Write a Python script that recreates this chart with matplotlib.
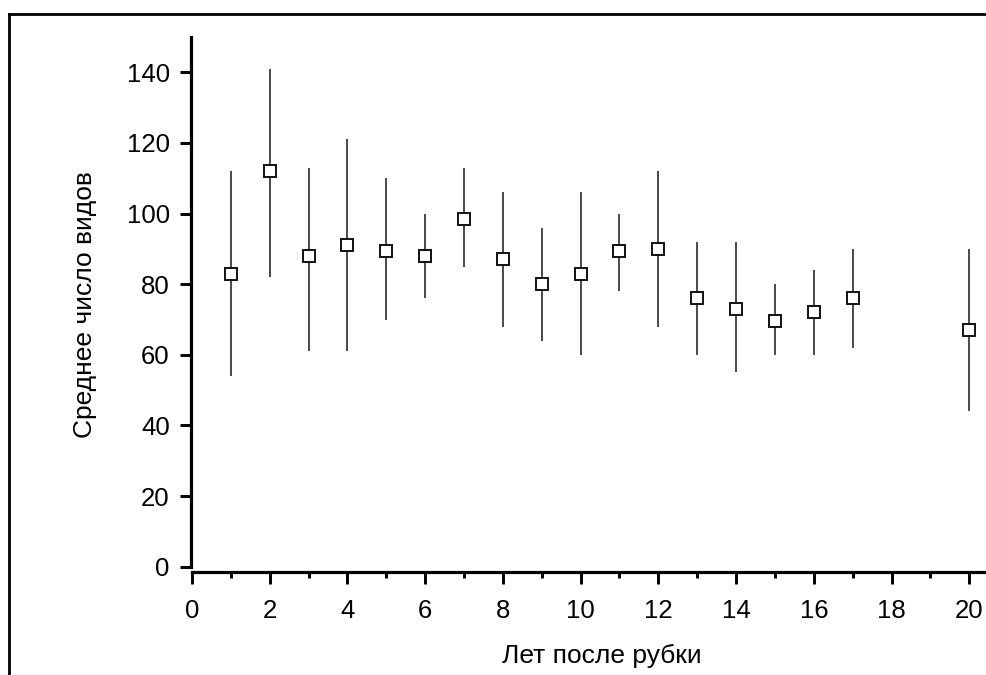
import matplotlib.pyplot as plt
from matplotlib.lines import Line2D
from matplotlib.ticker import MultipleLocator

plt.rcParams["font.family"] = ["Liberation Sans", "DejaVu Sans"]

# years after logging
years = [1, 2, 3, 4, 5, 6, 7, 8, 9, 10, 11, 12, 13, 14, 15, 16, 17, 20]
# mean number of species
means = [83, 112, 88, 91, 89.5, 88, 98.5, 87, 80, 83, 89.5, 90, 76, 73, 69.5, 72, 76, 67]
# upper / lower ends of the error bars
upper = [112, 141, 113, 121, 110, 100, 113, 106, 96, 106, 100, 112, 92, 92, 80, 84, 90, 90]
lower = [54, 82, 61, 61, 70, 76, 85, 68, 64, 60, 78, 68, 60, 55, 60, 60, 62, 44]

x_ticks = [0, 2, 4, 6, 8, 10, 12, 14, 16, 18, 20]
y_ticks = [0, 20, 40, 60, 80, 100, 120, 140]


def main() -> None:
    fig = plt.figure(figsize=(9.86, 6.75), dpi=100)
    ax = fig.add_axes([0.1947, 0.1526, 0.8053, 0.7926])

    err_low = [m - lo for m, lo in zip(means, lower)]
    err_high = [hi - m for m, hi in zip(means, upper)]

    ax.errorbar(
        years,
        means,
        yerr=[err_low, err_high],
        fmt="s",
        color="#222222",
        ecolor="#2a2a2a",
        elinewidth=1.2,
        capsize=0,
        markersize=8,
        markerfacecolor="white",
        markeredgecolor="#111111",
        markeredgewidth=1.4,
        zorder=3,
    )

    ax.set_xlim(0, 20.43)
    ax.set_ylim(-1.5, 150)

    for side in ("top", "right"):
        ax.spines[side].set_visible(False)
    ax.spines["left"].set_bounds(0, 150)
    ax.spines["left"].set_linewidth(2.3)
    ax.spines["bottom"].set_linewidth(2.3)
    ax.spines["left"].set_position(("outward", 1))

    ax.set_xticks(x_ticks)
    ax.set_yticks(y_ticks)
    ax.xaxis.set_minor_locator(MultipleLocator(1))

    ax.tick_params(axis="x", which="major", direction="out", length=8.5,
                   width=2.1, pad=11, labelsize=18.5)
    ax.tick_params(axis="x", which="minor", direction="out", length=4.5,
                   width=2.1)
    ax.tick_params(axis="y", which="major", direction="out", length=8,
                   width=2.1, pad=7, labelsize=18.5)

    ax.set_xlabel("Лет после рубки", fontsize=19)
    ax.xaxis.set_label_coords(0.516, -0.134)
    ax.set_ylabel("Среднее число видов", fontsize=19, labelpad=21)

    # outer frame (left and top edges)
    fig.add_artist(Line2D([9 / 986, 9 / 986], [0, 1 - 13.5 / 675],
                          transform=fig.transFigure, color="black", lw=2))
    fig.add_artist(Line2D([9 / 986, 1], [1 - 13.5 / 675, 1 - 13.5 / 675],
                          transform=fig.transFigure, color="black", lw=2))

    fig.savefig("out.png", dpi=100)
    plt.close(fig)


if __name__ == "__main__":
    main()
